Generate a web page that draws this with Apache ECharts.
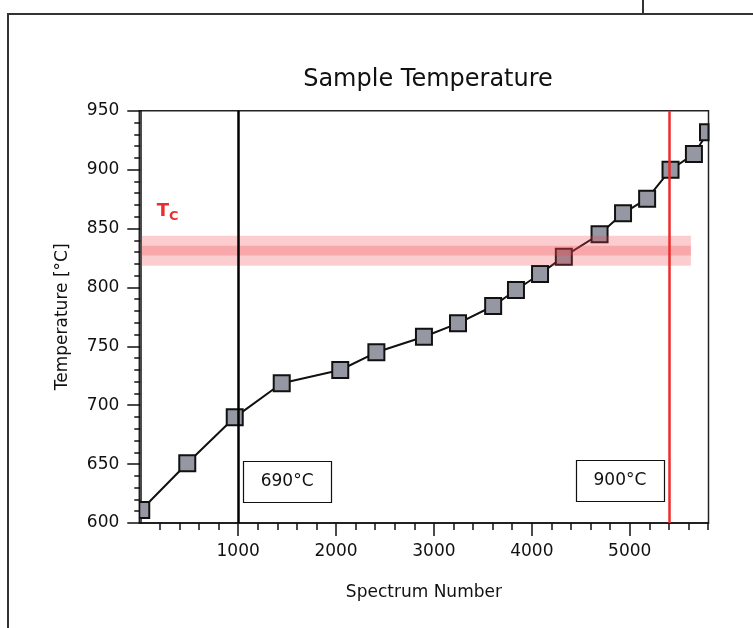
<!DOCTYPE html>
<html>
<head>
<meta charset="utf-8">
<script src="https://cdn.jsdelivr.net/npm/echarts@6/dist/echarts.min.js"></script>
<style>
html,body{margin:0;padding:0;background:#fff;}
#chart{width:753px;height:628px;}
</style>
</head>
<body>
<div id="chart"></div>
<script>
// ---- data ----
const spectrum = [10, 480, 965, 1445, 2043, 2412, 2898, 3246, 3605, 3838, 4084, 4327, 4692, 4932, 5178, 5417, 5656, 5800];
const temperature = [611, 650.7, 689.7, 718.6, 729.9, 744.9, 758.1, 769.5, 784.2, 797.8, 811.4, 826.1, 845.1, 862.9, 875.3, 899.9, 913.2, 931.7];
const xMajorTicks = [1000, 2000, 3000, 4000, 5000];
const xMinorTicks = [200, 400, 600, 800, 1200, 1400, 1600, 1800, 2200, 2400, 2600, 2800, 3200, 3400, 3600, 3800, 4200, 4400, 4600, 4800, 5200, 5400, 5600, 5800];
const yTicks = [600, 650, 700, 750, 800, 850, 900, 950];
// Tc band: [xStart, xEnd, yLow, yHigh]
const tcBandOuter = [10, 5625, 818.4, 843.9];
const tcBandInner = [10, 5625, 827, 835.4];
const refLineBlack = 1000;
const refLineRed = 5400;
const annotations = [
  {text: '690°C', x: 1500, y: 635.2},
  {text: '900°C', x: 4900, y: 636}
];
const tcLabelPos = [250, 857];

const FONT = 'DejaVu Sans';
const chart = echarts.init(document.getElementById('chart'));

const pts = spectrum.map((s, i) => [s, temperature[i]]);

const option = {
  animation: false,
  backgroundColor: '#fff',
  title: {
    text: 'Sample Temperature',
    left: 423, top: 63, textAlign: 'center',
    textStyle: {fontFamily: FONT, fontSize: 24, fontWeight: 'normal', color: '#111'}
  },
  grid: {left: 139.3, right: 44.5, top: 110.7, bottom: 105, show: true, borderColor: '#222', borderWidth: 1.5, backgroundColor: 'transparent'},
  xAxis: [{
    type: 'value', min: -10, max: 5805,
    name: 'Spectrum Number', nameLocation: 'middle', nameGap: 61,
    nameTextStyle: {fontFamily: FONT, fontSize: 17, color: '#111'},
    axisLine: {show: true, lineStyle: {color: '#111', width: 1.5}},
    axisTick: {show: true, length: 13, customValues: xMajorTicks, lineStyle: {color: '#111', width: 1.5}},
    axisLabel: {customValues: xMajorTicks, margin: 20, fontFamily: FONT, fontSize: 17, color: '#111',
      formatter: function (v) { return String(v); }},
    splitLine: {show: false}
  }, {
    type: 'value', min: -10, max: 5805, gridIndex: 0, position: 'bottom',
    axisLine: {show: false},
    axisTick: {show: true, length: 7, customValues: xMinorTicks, lineStyle: {color: '#111', width: 1.5}},
    axisLabel: {show: false},
    splitLine: {show: false}
  }],
  yAxis: {
    type: 'value', min: yTicks[0], max: yTicks[yTicks.length - 1], interval: 50,
    name: 'Temperature [°C]', nameLocation: 'middle', nameGap: 68,
    nameTextStyle: {fontFamily: FONT, fontSize: 17, color: '#111'},
    axisLine: {show: true, lineStyle: {color: '#111', width: 1.5}},
    axisTick: {show: true, length: 13, lineStyle: {color: '#111', width: 1.5}},
    minorTick: {show: true, splitNumber: 5, length: 6, lineStyle: {color: '#111', width: 1.5}},
    axisLabel: {margin: 20, fontFamily: FONT, fontSize: 17, color: '#111', showMinLabel: true, showMaxLabel: true},
    splitLine: {show: false}
  },
  series: [{
    type: 'line', data: pts, symbol: 'none', z: 2,
    lineStyle: {color: '#111', width: 2},
    markLine: {
      silent: true, symbol: 'none', z: 6,
      label: {show: false},
      data: [
        {xAxis: refLineBlack, lineStyle: {color: '#000', width: 2.5, type: 'solid'}},
        {xAxis: refLineRed, lineStyle: {color: '#ec2d2d', width: 2.5, type: 'solid'}}
      ]
    }
  }, {
    type: 'custom', data: pts, clip: true, z: 3,
    encode: {x: 0, y: 1},
    renderItem: function (params, api) {
      const c = api.coord([api.value(0), api.value(1)]);
      const cs = params.coordSys;
      const x0 = Math.max(c[0] - 8, cs.x), x1 = Math.min(c[0] + 8, cs.x + cs.width);
      const y0 = Math.max(c[1] - 8, cs.y), y1 = Math.min(c[1] + 8, cs.y + cs.height);
      return {type: 'rect', shape: {x: x0, y: y0, width: x1 - x0, height: y1 - y0},
        style: {fill: '#9598a2', stroke: '#111', lineWidth: 2}};
    }
  }, {
    type: 'custom', data: [tcBandOuter, tcBandInner], clip: true, z: 4, silent: true,
    encode: {x: [0, 1], y: [2, 3]},
    renderItem: function (params, api) {
      const p1 = api.coord([api.value(0), api.value(3)]);
      const p2 = api.coord([api.value(1), api.value(2)]);
      return {type: 'rect', shape: {x: p1[0], y: p1[1], width: p2[0] - p1[0], height: p2[1] - p1[1]},
        style: {fill: 'rgba(240,60,70,0.26)'}};
    }
  }]
};
chart.setOption(option);

const graphics = [
  {type: 'line', shape: {x1: 8, y1: 14, x2: 753, y2: 14}, style: {stroke: '#333', lineWidth: 2}},
  {type: 'line', shape: {x1: 8, y1: 13, x2: 8, y2: 628}, style: {stroke: '#333', lineWidth: 2}},
  {type: 'line', shape: {x1: 643, y1: 0, x2: 643, y2: 14}, style: {stroke: '#333', lineWidth: 2}}
];
annotations.forEach(a => {
  const p = chart.convertToPixel({gridIndex: 0}, [a.x, a.y]);
  graphics.push({type: 'rect', z: 10, shape: {x: Math.round(p[0] - 44) + 0.5, y: Math.round(p[1] - 20.5) + 0.5, width: 88, height: 41},
    style: {fill: '#fff', stroke: '#111', lineWidth: 1.2}});
  graphics.push({type: 'text', z: 11, x: p[0], y: p[1], style: {text: a.text, fontFamily: FONT, fontSize: 17, fill: '#111', align: 'center', verticalAlign: 'middle'}});
});
const tp = chart.convertToPixel({gridIndex: 0}, tcLabelPos);
graphics.push({type: 'text', z: 10, x: tp[0] - 8, y: tp[1], style: {
  text: '{t|T}{c|C}', align: 'left', verticalAlign: 'bottom',
  rich: {t: {fontFamily: FONT, fontSize: 18, fontWeight: 'bold', fill: '#ec2d2d', verticalAlign: 'bottom'},
         c: {fontFamily: FONT, fontSize: 13, fontWeight: 'bold', fill: '#ec2d2d', verticalAlign: 'bottom', padding: [0, 0, -3, 0]}}
}});
chart.setOption({graphic: {elements: graphics}});
</script>
</body>
</html>
